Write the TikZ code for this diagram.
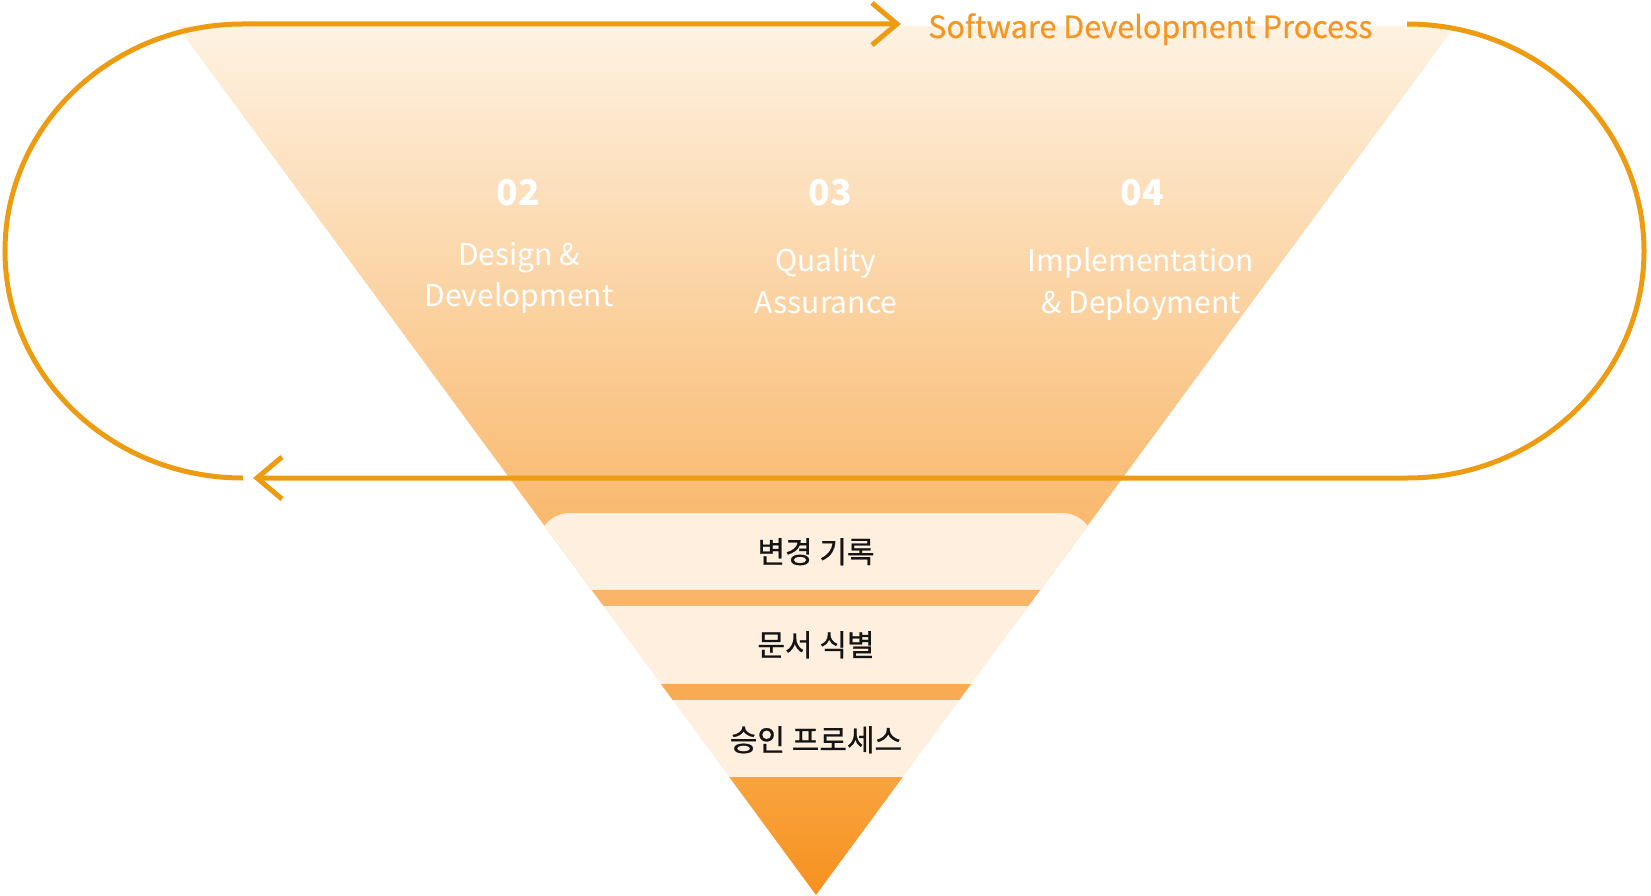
\documentclass[tikz,border=0pt]{standalone}
\usepackage{fontspec}
\setmainfont{Noto Sans CJK KR}
\newfontfamily\krmed[FakeBold=0.8]{Noto Sans CJK KR}
\newfontfamily\titlemed[FakeBold=0.5]{Noto Sans CJK KR}
\definecolor{loopc}{RGB}{237,155,17}
\definecolor{titlec}{RGB}{243,150,38}
\definecolor{fadetop}{RGB}{254,242,226}
\definecolor{fademid}{RGB}{252,218,176}
\definecolor{fadebot}{RGB}{249,186,112}
\definecolor{cream}{RGB}{254,239,222}
\definecolor{stripea}{RGB}{249,182,106}
\definecolor{stripeb}{RGB}{248,171,82}
\definecolor{tiptop}{RGB}{248,164,63}
\definecolor{tipbot}{RGB}{247,144,30}
\definecolor{krtext}{RGB}{20,20,20}
\begin{document}
\begin{tikzpicture}[x=1pt,y=-1pt,
  loopline/.style={draw=loopc,line width=5pt,line join=miter},
  chevron/.style={draw=loopc,line width=5pt,line join=miter,line cap=butt},
  numtxt/.style={text=white,inner sep=0pt,anchor=base,font=\fontsize{35.5}{42}\selectfont\bfseries},
  lbltxt/.style={text=white,inner sep=0pt,anchor=base,font=\fontsize{30}{36}\selectfont},
  krtxt/.style={text=krtext,inner sep=0pt,anchor=base,font=\krmed\fontsize{30}{36}\selectfont},
  titletxt/.style={text=titlec,inner sep=0pt,anchor=base west,font=\titlemed\fontsize{30.6}{36}\selectfont}]
\useasboundingbox (0,0) rectangle (1651,896);
\coordinate (TL) at (177,26);
\coordinate (TR) at (1455,26);
\coordinate (AP) at (816,895);
% funnel
\begin{scope}
\clip (TL) -- (TR) -- (AP) -- cycle;
\shade[top color=fadetop,middle color=fademid,bottom color=fadebot] (150,26) rectangle (1480,513);
\fill[fadebot] (150,512) rectangle (1480,591);
\fill[cream,rounded corners=32pt] (538,513) rectangle (1094,620);
\fill[stripea] (150,590) rectangle (1480,606);
\fill[cream] (150,606) rectangle (1480,684);
\fill[stripeb] (150,684) rectangle (1480,700);
\fill[cream] (150,700) rectangle (1480,777);
\shade[top color=tiptop,bottom color=tipbot] (150,777) rectangle (1480,896);
\end{scope}
% loop
\coordinate (LB) at (243,478);
\coordinate (LT) at (243,24);
\coordinate (TA) at (897,24);
\coordinate (RT) at (1407,24);
\coordinate (BA) at (257,478);
\draw[loopline] (LB) arc[start angle=90,end angle=270,x radius=238,y radius=227] -- (TA);
\draw[chevron] (872,3) -- (TA) -- (872,45);
\draw[loopline] (RT) arc[start angle=-90,end angle=90,x radius=237,y radius=227] -- (BA);
\draw[chevron] (282,457) -- (BA) -- (282,499);
% texts
\node[titletxt] (title) at (928,38) {Software Development Process};
\node[numtxt] (n2) at (518,205) {02};
\node[numtxt] (n3) at (830,205) {03};
\node[numtxt] (n4) at (1142,205) {04};
\node[lbltxt] (d1) at (519,265) {Design \&};
\node[lbltxt] (d2) at (519,306) {Development};
\node[lbltxt] (q1) at (826,271) {Quality};
\node[lbltxt] (q2) at (826,313) {Assurance};
\node[lbltxt] (i1) at (1141,271) {Implementation};
\node[lbltxt] (i2) at (1141,313) {\& Deployment};
\node[krtxt] (k1) at (816,563) {변경 기록};
\node[krtxt] (k2) at (816,656) {문서 식별};
\node[krtxt] (k3) at (816,751) {승인 프로세스};
\end{tikzpicture}
\end{document}
